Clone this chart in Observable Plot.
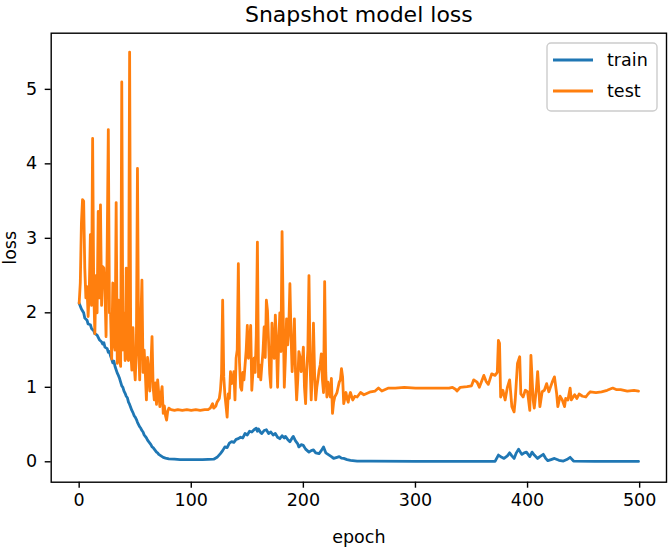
<!DOCTYPE html>
<html>
<head>
<meta charset="utf-8">
<script src="https://cdn.jsdelivr.net/npm/d3@7"></script>
<script src="https://cdn.jsdelivr.net/npm/@observablehq/plot@0.6"></script>
<style>
  html, body { margin: 0; padding: 0; background: white; }
  #chart svg { display: block; }
</style>
</head>
<body>
<div id="chart"></div>
<script>
const title = "Snapshot model loss";
const xLabel = "epoch";
const yLabel = "loss";
const xTicks = [0, 100, 200, 300, 400, 500];
const yTicks = [0, 1, 2, 3, 4, 5];
const seriesNames = ["train", "test"];
const seriesColors = ["#1f77b4", "#ff7f0e"];

const trainEpoch = [0,2,4,5,7,8,10,11,13,14,16,18,20,21,22,23,25,26,27,28,29,30,31,32,34,35,36,37,38,39,40,41,42,43,44,45,46,47,48,49,50,51,52,53,54,55,56,57,58,59,60,61,62,63,64,65,66,67,68,69,70,71,72,73,74,75,77,80,85,90,100,110,120,123,126,128,130,132,134,136,138,140,142,144,146,148,150,152,154,156,158,159,160,162,163,165,167,169,171,173,175,177,179,181,183,184,186,188,190,191,193,195,196,198,200,202,205,207,209,211,214,216,218,220,223,225,227,230,232,234,236,239,242,248,260,300,340,371,374,377,379,382,384,386,388,390,392,394,395,397,399,402,404,406,409,411,414,416,418,421,424,428,432,435,438,441,460,499];
const trainLoss = [2.13,2.05,2.0,1.93,1.90,1.85,1.84,1.79,1.76,1.72,1.70,1.64,1.61,1.58,1.60,1.54,1.52,1.47,1.48,1.42,1.38,1.33,1.35,1.28,1.19,1.16,1.12,1.07,1.02,1.0,0.95,0.92,0.88,0.86,0.80,0.77,0.73,0.69,0.66,0.62,0.60,0.57,0.53,0.50,0.47,0.45,0.42,0.40,0.36,0.34,0.32,0.29,0.27,0.25,0.23,0.20,0.19,0.17,0.15,0.13,0.12,0.10,0.09,0.08,0.07,0.06,0.05,0.04,0.035,0.03,0.03,0.03,0.035,0.06,0.11,0.15,0.20,0.19,0.25,0.27,0.26,0.30,0.31,0.33,0.32,0.38,0.36,0.41,0.40,0.43,0.45,0.41,0.44,0.39,0.38,0.42,0.43,0.38,0.40,0.36,0.38,0.33,0.31,0.35,0.32,0.34,0.30,0.27,0.32,0.34,0.28,0.24,0.20,0.23,0.22,0.17,0.13,0.15,0.16,0.12,0.11,0.15,0.20,0.12,0.09,0.07,0.045,0.06,0.07,0.05,0.045,0.03,0.02,0.01,0.008,0.005,0.005,0.005,0.09,0.06,0.045,0.08,0.12,0.08,0.045,0.12,0.17,0.12,0.10,0.12,0.13,0.07,0.13,0.09,0.045,0.07,0.10,0.05,0.015,0.03,0.045,0.02,0.01,0.03,0.06,0.01,0.005,0.005];

const testEpoch = [0,1,2,3,4,5,6,7,8,9,10,11,12,13,14,15,16,17,18,19,20,21,22,23,24,25,26,27,28,29,30,31,32,33,34,35,36,37,38,39,40,41,42,43,44,45,46,47,48,49,50,51,52,53,54,55,56,57,58,59,60,61,62,63,64,65,66,67,68,69,70,71,72,73,74,75,76,77,78,79,80,82,85,88,92,96,100,104,108,112,115,117,119,120,122,123,125,126,127,128,129,130,131,132,133,134,135,136,137,138,139,140,141,142,143,144,145,146,147,148,149,150,151,152,153,154,155,156,157,158,159,160,161,162,163,164,165,166,167,168,169,170,171,172,173,174,175,176,177,178,179,180,181,182,183,184,185,186,187,188,189,190,191,192,193,194,195,196,197,198,199,200,201,202,203,204,205,206,207,208,209,210,211,212,213,214,215,216,217,218,219,220,221,222,223,224,225,226,227,228,229,230,231,232,233,234,235,236,237,238,239,240,241,242,244,246,248,251,254,257,260,264,267,270,273,276,282,290,300,310,320,330,333,336,337,340,346,350,352,355,357,361,363,365,368,371,373,374,375,376,378,380,382,384,386,388,389,391,393,394,396,398,400,402,403,405,406,408,409,411,413,415,417,419,422,424,426,427,429,431,433,434,436,438,439,442,444,446,449,452,454,456,461,466,471,476,479,483,489,495,499];
const testLoss = [2.13,2.4,3.2,3.52,3.5,2.6,2.2,2.35,1.95,2.3,3.05,2.1,4.34,2.3,1.72,2.5,2.0,3.36,2.2,3.45,2.1,2.62,2.6,2.3,1.68,2.9,4.46,2.0,1.99,1.38,2.4,1.6,1.5,3.48,1.32,2.17,1.4,1.28,5.10,1.5,2.0,1.36,2.6,1.4,1.36,5.50,1.5,1.23,1.8,1.3,1.10,1.5,3.94,1.59,1.1,1.9,2.44,1.2,1.5,1.19,0.83,1.4,1.24,0.95,1.3,1.68,1.0,0.83,1.06,0.77,1.1,0.92,0.74,0.9,1.01,0.65,0.75,0.62,0.56,0.68,0.72,0.70,0.69,0.70,0.69,0.70,0.69,0.70,0.69,0.70,0.70,0.72,0.78,0.72,0.75,0.80,0.85,0.96,1.18,2.17,1.14,0.90,0.75,0.60,0.91,0.85,1.21,1.05,1.10,1.21,0.83,1.39,1.50,2.66,1.34,1.00,0.96,1.20,1.10,1.30,1.50,1.83,1.39,1.60,1.83,0.96,1.20,1.39,1.20,1.70,2.95,1.14,1.30,1.10,1.30,1.48,1.81,1.40,2.17,2.03,1.60,1.18,1.00,1.86,1.50,1.39,1.97,1.60,1.00,1.60,2.00,1.48,3.09,2.00,1.00,1.40,1.92,1.57,1.80,2.39,1.70,1.21,1.50,1.92,1.20,0.83,1.10,1.48,1.41,1.21,1.30,1.54,1.00,0.78,1.23,1.50,2.50,1.30,0.83,1.20,1.86,1.20,0.83,1.00,1.10,1.23,1.30,1.45,1.10,0.93,2.42,1.20,0.87,1.07,0.95,0.87,1.12,0.65,0.80,0.87,0.90,0.93,1.00,1.07,1.10,1.25,1.14,0.78,0.85,0.93,0.85,0.80,0.88,0.93,0.83,0.88,0.87,0.93,0.90,0.92,0.94,0.95,0.99,0.95,0.97,0.99,0.99,1.00,0.99,0.99,0.99,0.99,1.00,0.97,0.95,1.00,1.01,1.02,1.10,1.07,1.00,1.16,1.08,1.04,1.18,1.16,1.20,1.63,1.59,0.87,0.96,0.83,1.00,1.10,0.74,0.67,0.83,1.32,1.41,0.91,0.87,0.96,0.94,0.69,1.43,0.83,0.72,1.00,1.21,0.74,0.94,0.96,1.05,0.94,1.07,1.14,0.91,0.74,0.88,0.83,0.74,0.85,0.83,0.99,0.83,0.90,0.85,0.91,0.88,0.87,0.91,0.94,0.93,0.94,0.96,0.99,0.97,0.97,0.95,0.96,0.95];

const train = trainEpoch.map((e, i) => ({epoch: e, loss: trainLoss[i]}));
const test = testEpoch.map((e, i) => ({epoch: e, loss: testLoss[i]}));

const font = "DejaVu Sans, sans-serif";
const fs = 17.5;

const chart = Plot.plot({
  width: 668,
  height: 548,
  marginLeft: 50.7,
  marginRight: 2,
  marginTop: 32.7,
  marginBottom: 66.3,
  style: {fontFamily: font, fontSize: fs + "px", background: "white", color: "black", overflow: "visible"},
  x: {domain: [-24.95, 523.95]},
  y: {domain: [-0.274, 5.754]},
  marks: [
    Plot.line(train, {x: "epoch", y: "loss", stroke: seriesColors[0], strokeWidth: 2.8, strokeLinejoin: "round"}),
    Plot.line(test, {x: "epoch", y: "loss", stroke: seriesColors[1], strokeWidth: 2.8, strokeLinejoin: "round"}),
    Plot.frame({stroke: "black", strokeWidth: 1.4}),
    Plot.axisX({ticks: xTicks, tickFormat: d => String(d), tickSize: 6, tickPadding: 5, label: null, strokeWidth: 1.4}),
    Plot.axisY({ticks: yTicks, tickFormat: d => String(d), tickSize: 6, tickPadding: 8, label: null, strokeWidth: 1.4}),
    Plot.text([title], {frameAnchor: "top", dy: -11.7, lineAnchor: "bottom", fontSize: 22, fill: "black"}),
    Plot.text([xLabel], {frameAnchor: "bottom", dy: 60.3, lineAnchor: "bottom", fontSize: fs, fill: "black"}),
    Plot.text([yLabel], {frameAnchor: "left", dx: -40.8, dy: 7, rotate: -90, lineAnchor: "middle", fontSize: fs, fill: "black"})
  ]
});

const svg = d3.select(chart);
svg.selectAll('g[aria-label="x-axis tick label"], g[aria-label="y-axis tick label"]')
  .attr("font-size", fs).style("font-size", fs + "px");
svg.selectAll('g[aria-label="x-axis tick label"] text, g[aria-label="y-axis tick label"] text')
  .attr("font-size", fs).style("font-size", fs + "px");

// legend (matplotlib-style box, upper right)
const lg = svg.append("g").attr("font-family", font).attr("font-size", fs).attr("text-anchor", "start");
lg.append("rect").attr("x", 547).attr("y", 43).attr("width", 110).attr("height", 68)
  .attr("rx", 4).attr("fill", "white").attr("fill-opacity", 0.8).attr("stroke", "#cccccc").attr("stroke-width", 1.4);
seriesNames.forEach((name, i) => {
  const cy = 60 + i * 31;
  lg.append("line").attr("x1", 553).attr("x2", 593).attr("y1", cy).attr("y2", cy)
    .attr("stroke", seriesColors[i]).attr("stroke-width", 2.8);
  lg.append("text").attr("x", 607).attr("y", cy).attr("dy", "0.35em").attr("text-anchor", "start").attr("fill", "black").text(name);
});

document.getElementById("chart").appendChild(chart);
</script>
</body>
</html>
